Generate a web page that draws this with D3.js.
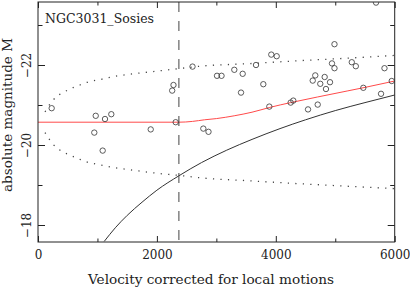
<!DOCTYPE html>
<html lang="en">
<head>
    <meta charset="UTF-8">
    <title>NGC3031_Sosies</title>
    <script src="https://d3js.org/d3.v7.min.js"></script>
    <style>
        body { margin: 0; background: #fff; }
        svg { display: block; }
        text { font-family: "DejaVu Serif", "Liberation Serif", serif; fill: #222; }
        .axis path, .axis line { stroke: #222; stroke-width: 1; }
    </style>
</head>
<body>
    <svg id="chart"></svg>
    <script>
        // sosie galaxies: velocity (km/s) and absolute magnitude
        var velocity = [230, 971, 1127, 1233, 947, 1088, 1896, 2316, 2279, 2257,
            2599, 2781, 2868, 3011, 3087, 3302, 3443, 3415, 3667, 3790,
            3891, 3924, 4015, 4250, 4294, 4542, 4705, 4621, 4664, 4748,
            4822, 4912, 4844, 4945, 4987, 4987, 5278, 5346, 5472, 5770,
            5828, 5950, 5686];
        var magnitude = [-20.92, -20.73, -20.65, -20.77, -20.31, -19.86, -20.39, -20.57, -21.50, -21.36,
            -21.96, -20.41, -20.33, -21.73, -21.73, -21.88, -21.78, -21.31, -22.00, -21.52,
            -20.96, -22.26, -22.22, -21.06, -21.11, -20.89, -21.01, -21.61, -21.74, -21.53,
            -21.70, -21.57, -21.40, -22.04, -21.92, -22.52, -22.07, -21.97, -21.43, -21.28,
            -21.92, -21.60, -23.56];

        // completeness limit (solid curve)
        var limitV = [1114, 1300, 1500, 1750, 2000, 2370, 2750, 3174, 3600, 4071, 4500, 5000, 5500, 6000];
        var limitM = [-17.59, -17.93, -18.24, -18.57, -18.87, -19.23, -19.56, -19.87, -20.14, -20.41, -20.63, -20.86, -21.06, -21.25];

        // biased mean (red curve)
        var meanV = [0, 2370, 2600, 2800, 3000, 3300, 3600, 3900, 4250, 4700, 5200, 5500, 6000];
        var meanM = [-20.57, -20.57, -20.59, -20.63, -20.66, -20.73, -20.82, -20.94, -21.06, -21.20, -21.35, -21.44, -21.60];

        // dispersion envelope (dotted curves)
        var bandV = [118, 258, 360, 470, 580, 705, 810, 1055, 1300, 1550, 2023, 2370, 2807, 3500, 4420, 5200, 6000];
        var bandUpper = [-20.83, -21.13, -21.26, -21.35, -21.43, -21.50, -21.56, -21.64, -21.72, -21.77, -21.85, -21.91, -21.98, -22.03, -22.11, -22.17, -22.24];
        var bandLower = [-20.31, -20.01, -19.88, -19.79, -19.72, -19.64, -19.58, -19.50, -19.43, -19.38, -19.29, -19.24, -19.17, -19.11, -19.03, -18.97, -18.91];

        var cutoffV = 2370;

        var xMajor = [0, 2000, 4000, 6000];
        var xMinor = [1000, 3000, 5000];
        var yMajor = [-22, -20, -18];
        var yMinor = [-23, -21, -19];

        var W = 410, H = 288;
        var box = {left: 38, right: 394.7, top: 2, bottom: 242};

        var svg = d3.select("#chart").attr("width", W).attr("height", H);

        var x = d3.scaleLinear().domain([0, 6000]).range([box.left, box.right]);
        var y = d3.scaleLinear().domain([-17.575, -23.575]).range([box.bottom, box.top]);

        svg.append("clipPath").attr("id", "clip")
            .append("rect").attr("x", box.left).attr("y", box.top)
            .attr("width", box.right - box.left).attr("height", box.bottom - box.top);

        var plot = svg.append("g").attr("clip-path", "url(#clip)");

        function curve(vs, ms) {
            return d3.line()
                .x(function(d) { return x(d); })
                .y(function(d, i) { return y(ms[i]); })
                .curve(d3.curveMonotoneX)(vs);
        }

        // dotted envelope
        [bandUpper, bandLower].forEach(function(ms) {
            plot.append("path")
                .attr("d", curve(bandV, ms))
                .attr("fill", "none")
                .attr("stroke", "#444")
                .attr("stroke-width", 1.3)
                .attr("stroke-dasharray", "1.2,6.3");
        });

        // limit curve
        plot.append("path")
            .attr("d", curve(limitV, limitM))
            .attr("fill", "none")
            .attr("stroke", "#333")
            .attr("stroke-width", 1);

        // mean curve
        plot.append("path")
            .attr("d", curve(meanV, meanM))
            .attr("fill", "none")
            .attr("stroke", "#ff4a4a")
            .attr("stroke-width", 1);

        // cutoff velocity
        plot.append("line")
            .attr("x1", x(cutoffV)).attr("x2", x(cutoffV))
            .attr("y1", box.top).attr("y2", box.bottom)
            .attr("stroke", "#444")
            .attr("stroke-width", 1)
            .attr("stroke-dasharray", "10,9");

        // points
        plot.selectAll(".pt")
            .data(velocity)
            .enter().append("circle")
            .attr("class", "pt")
            .attr("cx", function(d) { return x(d); })
            .attr("cy", function(d, i) { return y(magnitude[i]); })
            .attr("r", 2.7)
            .attr("fill", "none")
            .attr("stroke", "#333")
            .attr("stroke-width", 0.8);

        // frame
        svg.append("rect")
            .attr("x", box.left).attr("y", box.top)
            .attr("width", box.right - box.left).attr("height", box.bottom - box.top)
            .attr("fill", "none").attr("stroke", "#222");

        function ticks(axisFn, scale, values, size, pos, labels) {
            var g = svg.append("g").attr("class", "axis")
                .attr("transform", pos)
                .call(axisFn(scale).tickValues(values).tickSize(-size).tickSizeOuter(0).tickPadding(8)
                    .tickFormat(labels ? d3.format("d") : ""));
            g.select(".domain").remove();
            return g;
        }

        // x ticks (bottom with labels, top without)
        var gx = ticks(d3.axisBottom, x, xMajor, 6, "translate(0," + box.bottom + ")", true);
        gx.selectAll("text").attr("font-size", 12).attr("dy", "0.71em");
        ticks(d3.axisBottom, x, xMinor, 3.5, "translate(0," + box.bottom + ")", false);
        ticks(d3.axisTop, x, xMajor, 6, "translate(0," + box.top + ")", false);
        ticks(d3.axisTop, x, xMinor, 3.5, "translate(0," + box.top + ")", false);

        // y ticks (left with rotated labels, right without)
        var gy = ticks(d3.axisLeft, y, yMajor, 7, "translate(" + box.left + ",0)", true);
        gy.selectAll("text")
            .attr("font-size", 12)
            .attr("x", null).attr("dy", null)
            .attr("text-anchor", "middle")
            .attr("transform", "translate(-7,0) rotate(-90)");
        ticks(d3.axisLeft, y, yMinor, 4.5, "translate(" + box.left + ",0)", false);
        ticks(d3.axisRight, y, yMajor, 7, "translate(" + box.right + ",0)", false);
        ticks(d3.axisRight, y, yMinor, 4.5, "translate(" + box.right + ",0)", false);

        // labels
        svg.append("text")
            .attr("x", 45).attr("y", 22.5)
            .attr("font-size", 12.5)
            .attr("textLength", 109).attr("lengthAdjust", "spacingAndGlyphs")
            .text("NGC3031_Sosies");

        svg.append("text")
            .attr("x", 211).attr("y", 284)
            .attr("text-anchor", "middle")
            .attr("font-size", 12)
            .attr("textLength", 246).attr("lengthAdjust", "spacingAndGlyphs")
            .text("Velocity corrected for local motions");

        svg.append("text")
            .attr("transform", "translate(12,115) rotate(-90)")
            .attr("text-anchor", "middle")
            .attr("font-size", 12)
            .attr("textLength", 154).attr("lengthAdjust", "spacingAndGlyphs")
            .text("absolute magnitude M");
    </script>
</body>
</html>
